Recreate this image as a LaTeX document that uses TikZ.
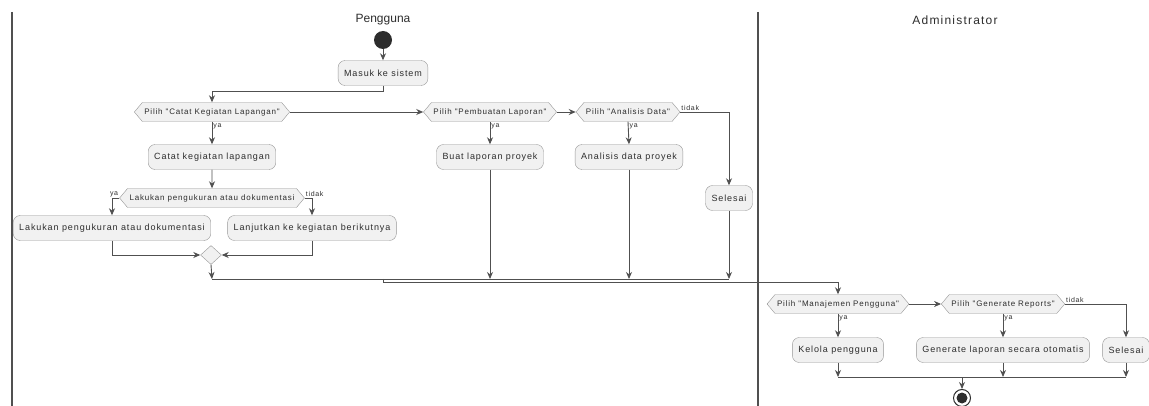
\documentclass[tikz,border=0pt]{standalone}
\usepackage{fontspec}
\setmainfont{Liberation Sans}
\newfontfamily\trackfont[LetterSpace=10]{Liberation Sans}
\usepackage{tikz}
\usepackage{xcolor}
\usetikzlibrary{arrows.meta,calc,positioning,shapes.geometric,shapes.symbols}
\definecolor{umlfill}{RGB}{241,241,241}
\definecolor{umlborder}{RGB}{150,150,150}
\definecolor{umlline}{RGB}{80,80,80}
\definecolor{umltext}{RGB}{45,45,45}

\begin{document}
\begin{tikzpicture}[x=1pt,y=-1pt,>={Stealth[length=7pt,width=6pt]},
  act/.style={draw=umlborder,fill=umlfill,rounded corners=7pt,text=umltext,
    font=\trackfont\fontsize{9}{10}\selectfont,inner xsep=6pt,minimum height=25pt},
  dec/.style={signal,signal to=west and east,signal pointer angle=100,draw=umlborder,
    fill=umlfill,text=umltext,font=\trackfont\fontsize{8}{9}\selectfont,
    inner xsep=2pt,inner ysep=3pt,minimum height=19pt},
  flow/.style={draw=umlline,line width=0.9pt,->},
  bar/.style={draw=umlline,line width=0.9pt},
  lbl/.style={text=umltext,font=\trackfont\fontsize{7}{8}\selectfont,inner sep=1pt},
  lanetitle/.style={text=umltext,font=\fontsize{12}{14}\selectfont}]
  \useasboundingbox (0,0) rectangle (1149,406);
  % swimlanes
  \draw[umlline,line width=1.2pt] (12,12) -- (12,406);
  \draw[umlline,line width=1.2pt] (758,12) -- (758,406);
  \node[lanetitle] (lane1) at (383,20) {Pengguna};
  \node[lanetitle,font=\trackfont\fontsize{12}{14}\selectfont] (lane2) at (955,20) {Administrator};

  % Pengguna
  \node[circle,fill=umltext,minimum size=18pt,inner sep=0pt] (start) at (383,40) {};
  \node[act] (masuk) at (383,73) {Masuk ke sistem};
  \node[dec] (pCatat) at (212,112) {Pilih "Catat Kegiatan Lapangan"};
  \node[dec] (pLapor) at (490,112) {Pilih "Pembuatan Laporan"};
  \node[dec] (pAnalisis) at (628,112) {Pilih "Analisis Data"};
  \node[act] (catat) at (212,157) {Catat kegiatan lapangan};
  \node[act] (buat) at (490,157) {Buat laporan proyek};
  \node[act] (analisis) at (629,157) {Analisis data proyek};
  \node[act] (selesai1) at (729,198) {Selesai};
  \node[dec] (dUkur) at (212,198) {Lakukan pengukuran atau dokumentasi};
  \node[act] (ukur) at (112,228) {Lakukan pengukuran atau dokumentasi};
  \node[act] (lanjut) at (312,228) {Lanjutkan ke kegiatan berikutnya};
  \node[diamond,draw=umlborder,fill=umlfill,minimum width=21pt,minimum height=19pt,inner sep=0pt] (gabung) at (211,255) {};

  \coordinate (barL) at (212,279);
  \coordinate (barR) at (729,279);
  \coordinate (kink) at (383,279);
  \coordinate (kink2) at (383,282);

  \draw[flow] (start) -- (masuk);
  \draw[flow] (masuk.south) -- ++(0,6) -| (pCatat.north);
  \draw[flow] (pCatat.east) -- (pLapor.west);
  \draw[flow] (pLapor.east) -- (pAnalisis.west);
  \draw[flow] (pAnalisis.east) -| (selesai1.north);
  \node[lbl,above right] (tidak1) at (pAnalisis.east) {tidak};
  \draw[flow] (pCatat.south) -- (catat.north) node[lbl,pos=0.2,right] (ya1) {ya};
  \draw[flow] (pLapor.south) -- (buat.north) node[lbl,pos=0.2,right] (ya2) {ya};
  \draw[flow] (pAnalisis.south) -- (analisis.north) node[lbl,pos=0.2,right] (ya3) {ya};
  \draw[flow] (catat) -- (dUkur);
  \draw[flow] (dUkur.west) -| (ukur.north);
  \node[lbl,above left] (ya4) at (dUkur.west) {ya};
  \draw[flow] (dUkur.east) -| (lanjut.north);
  \node[lbl,above right] (tidak2) at (dUkur.east) {tidak};
  \draw[flow] (ukur.south) |- (gabung.west);
  \draw[flow] (lanjut.south) |- (gabung.east);

  % merge to bar
  \draw[flow] (gabung.south) -- (barL);
  \draw[flow] (buat.south) -- (buat.south |- barL);
  \draw[flow] (analisis.south) -- (analisis.south |- barL);
  \draw[flow] (selesai1.south) -- (barR);
  \draw[bar] (barL) -- (barR);

  % Administrator
  \node[dec] (pKelola) at (838,304) {Pilih "Manajemen Pengguna"};
  \node[dec] (pReport) at (1003,304) {Pilih "Generate Reports"};
  \node[act] (kelola) at (838,350) {Kelola pengguna};
  \node[act] (generate) at (1003,350) {Generate laporan secara otomatis};
  \node[act] (selesai2) at (1126,350) {Selesai};
  \node[circle,draw=umltext,line width=1pt,minimum size=17pt,inner sep=0pt] (akhir) at (962,398) {};
  \fill[umltext] (akhir.center) circle (5.5);

  \coordinate (barA) at (838,377);
  \coordinate (barB) at (1126,377);
  \coordinate (barMid) at (962,377);

  \draw[flow] (kink) -- (kink2) -| (pKelola.north);
  \draw[flow] (pKelola.east) -- (pReport.west);
  \draw[flow] (pReport.east) -| (selesai2.north);
  \node[lbl,above right] (tidak3) at (pReport.east) {tidak};
  \draw[flow] (pKelola.south) -- (kelola.north) node[lbl,pos=0.2,right] (ya5) {ya};
  \draw[flow] (pReport.south) -- (generate.north) node[lbl,pos=0.2,right] (ya6) {ya};
  \draw[flow] (kelola.south) -- (barA);
  \draw[flow] (generate.south) -- (generate.south |- barA);
  \draw[flow] (selesai2.south) -- (barB);
  \draw[bar] (barA) -- (barB);
  \draw[flow] (barMid) -- (akhir.north);
\end{tikzpicture}
\end{document}
